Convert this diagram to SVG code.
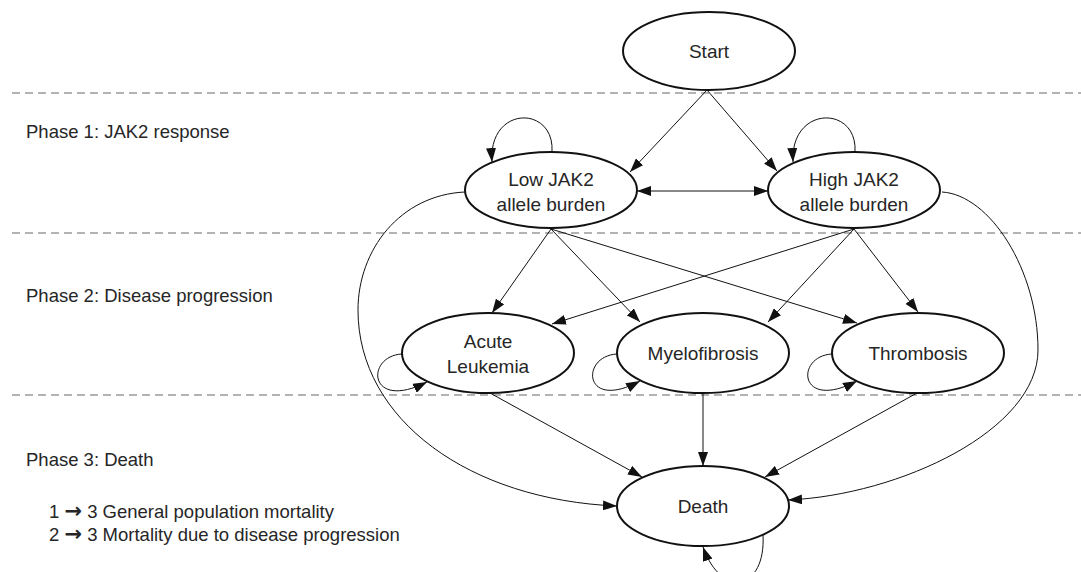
<svg xmlns="http://www.w3.org/2000/svg" width="1081" height="572" viewBox="0 0 1081 572">
<defs>
<marker id="ah" markerUnits="userSpaceOnUse" markerWidth="14" markerHeight="10" refX="14" refY="5" orient="auto-start-reverse" viewBox="0 0 14 10">
<path d="M0,0 L14,5 L0,10 z" fill="#111"/>
</marker>
</defs>
<style>
.node ellipse{fill:#fff;stroke:#111;stroke-width:2}
.node text{font-family:"Liberation Sans",Arial,sans-serif;font-size:19px;fill:#262626;text-anchor:middle}
.lbl{font-family:"Liberation Sans",Arial,sans-serif;font-size:18.5px;fill:#262626}
.arr{font-family:"DejaVu Sans",sans-serif;font-weight:bold;font-size:21px}
.dash{stroke:#9a9a9a;stroke-width:1.6;stroke-dasharray:8 5;fill:none}
#connectors path{fill:none;stroke:#111;stroke-width:1;marker-end:url(#ah)}
</style>
<rect width="1081" height="572" fill="#fff"/>
<g id="phases">
<line class="dash" x1="12" y1="93" x2="1081" y2="93"/>
<line class="dash" x1="12" y1="233" x2="1081" y2="233"/>
<line class="dash" x1="12" y1="395" x2="1081" y2="395"/>
<text class="lbl" x="26" y="138">Phase 1: JAK2 response</text>
<text class="lbl" x="26" y="302">Phase 2: Disease progression</text>
<text class="lbl" x="26" y="466">Phase 3: Death</text>
<text class="lbl" x="49" y="518">1 <tspan class="arr">→</tspan> 3 General population mortality</text>
<text class="lbl" x="49" y="541">2 <tspan class="arr">→</tspan> 3 Mortality due to disease progression</text>
</g>
<g id="connectors">
<path d="M707,90 L630,172"/>
<path d="M707,90 L777,171"/>
<path d="M637,191 L768,191" marker-start="url(#ah)"/>
<path d="M552,152 C555,105 488,105 492,162"/>
<path d="M855,152 C858,105 790,105 793,162"/>
<path d="M551,229 L492,313"/>
<path d="M551,229 L640,322"/>
<path d="M551,229 L857,323"/>
<path d="M854,229 L552,324"/>
<path d="M854,229 L768,322"/>
<path d="M854,229 L918,312"/>
<path d="M402,354 C365,356 368,412 427,382"/>
<path d="M617,354 C580,356 583,412 640,381"/>
<path d="M832,354 C795,356 798,412 857,381"/>
<path d="M490,393 L642,477"/>
<path d="M703,393 L703,466"/>
<path d="M917,393 L765,477"/>
<path d="M465,192 C400,195 358,250 358,310 C358,420 470,500 617,506"/>
<path d="M942,192 C990,195 1038,270 1038,350 C1038,430 900,495 788,500"/>
<path d="M763,535 C766,590 722,600 703,547"/>
</g>
<g id="start" class="node"><ellipse cx="709" cy="51" rx="86" ry="39"/><text x="709" y="58">Start</text></g>
<g id="low" class="node"><ellipse cx="551" cy="190" rx="86" ry="38"/><text x="551" y="186">Low JAK2</text><text x="551" y="211">allele burden</text></g>
<g id="high" class="node"><ellipse cx="854" cy="190" rx="86" ry="38"/><text x="854" y="186">High JAK2</text><text x="854" y="211">allele burden</text></g>
<g id="acute" class="node"><ellipse cx="488" cy="353" rx="86" ry="40"/><text x="488" y="348">Acute</text><text x="488" y="373">Leukemia</text></g>
<g id="myelo" class="node"><ellipse cx="703" cy="353" rx="86" ry="40"/><text x="703" y="360">Myelofibrosis</text></g>
<g id="thromb" class="node"><ellipse cx="918" cy="353" rx="86" ry="40"/><text x="918" y="360">Thrombosis</text></g>
<g id="death" class="node"><ellipse cx="703" cy="506" rx="86" ry="40"/><text x="703" y="513">Death</text></g>
</svg>
